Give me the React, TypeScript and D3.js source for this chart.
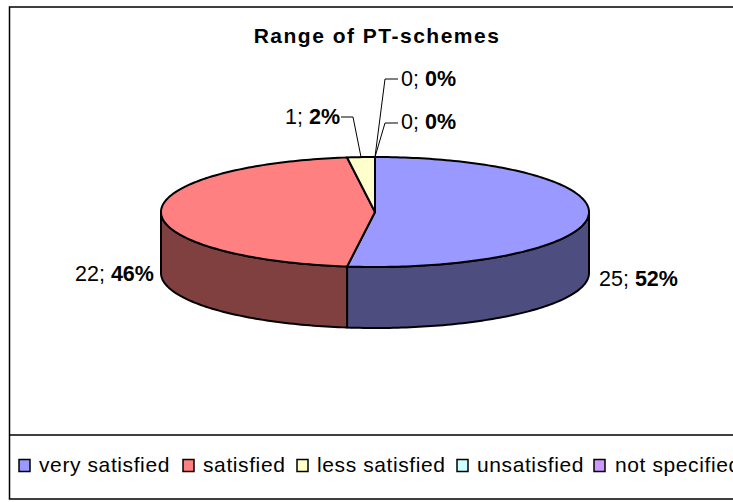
import React from 'react';
import * as d3 from 'd3';

const categories = ['very satisfied', 'satisfied', 'less satisfied', 'unsatisfied', 'not specified'];
const values = [25, 22, 1, 0, 0];
const percents = ['52%', '46%', '2%', '0%', '0%'];
const topColors = ['#9999FF', '#FF8080', '#FFFFCC', '#CCFFFF', '#CC99FF'];
const sideColors = ['#4D4D80', '#804040', '#808066', '#668080', '#664D80'];
const legendSwatchX = [19, 183, 297, 457, 594];
const legendTextX = [39, 203, 317, 477, 615];

const width = 733;
const height = 502;
const cx = 375;
const cy = 212;
const rx = 214;
const ry = 55;
const depth = 61;
const font = '"Liberation Sans", Arial, sans-serif';

// pie angle -> squashed ellipse point, 0 at the top going clockwise
const rimX = (a: number) => cx + rx * Math.sin(a);
const rimY = (a: number) => cy - ry * Math.cos(a);

const sampleAngles = (a0: number, a1: number) => {
  const n = Math.max(2, Math.ceil(Math.abs(a1 - a0) / 0.02));
  return d3.range(n + 1).map((i) => a0 + ((a1 - a0) * i) / n);
};

const line = d3.line<[number, number]>();

const topPath = (a0: number, a1: number) =>
  line([[cx, cy], ...sampleAngles(a0, a1).map((a): [number, number] => [rimX(a), rimY(a)])]) + 'Z';

const sidePath = (a0: number, a1: number) => {
  const front = sampleAngles(a0, a1);
  const upper = front.map((a): [number, number] => [rimX(a), rimY(a)]);
  const lower = [...front].reverse().map((a): [number, number] => [rimX(a), rimY(a) + depth]);
  return line([...upper, ...lower]) + 'Z';
};

const pie = d3.pie<number>().sort(null);
const slices = pie(values);

const leaders: [number, number][][] = [
  [[398, 79], [385, 79], [375, 157]],
  [[398, 123], [385, 123], [375, 157]],
  [[341, 117], [353, 117], [361, 157]],
];

// value index, x, baseline
const labels: [number, number, number][] = [
  [0, 599, 286],
  [1, 75, 281],
  [2, 285, 124],
  [3, 401, 86],
  [4, 401, 129],
];

export default function App() {
  const ink = '#000';
  return (
    <svg
      width={width}
      height={height}
      style={{ position: 'absolute', left: 0, top: 0, background: '#fff' }}
      fontFamily={font}
    >
      <path d={`M${width},7H9.5V499H${width}`} fill="none" stroke={ink} strokeWidth={1.5} />
      <path d={`M9.5,435H${width}`} fill="none" stroke={ink} strokeWidth={1.5} />

      <text x={377} y={43} textAnchor="middle" fontSize={21} fontWeight="bold" letterSpacing={1.5}>
        Range of PT-schemes
      </text>

      {slices.map((s, i) => {
        const a0 = Math.max(s.startAngle, Math.PI / 2);
        const a1 = Math.min(s.endAngle, (3 * Math.PI) / 2);
        if (a1 <= a0) return null;
        return (
          <path key={i} d={sidePath(a0, a1)} fill={sideColors[i]} stroke={ink} strokeWidth={2} strokeLinejoin="round" />
        );
      })}
      {slices.map((s, i) =>
        s.endAngle > s.startAngle ? (
          <path
            key={i}
            d={topPath(s.startAngle, s.endAngle)}
            fill={topColors[i]}
            stroke={ink}
            strokeWidth={2}
            strokeLinejoin="round"
          />
        ) : null
      )}

      {leaders.map((pts, i) => (
        <path key={i} d={line(pts) ?? ''} fill="none" stroke={ink} strokeWidth={1} />
      ))}

      {labels.map(([i, x, y]) => (
        <text key={i} x={x} y={y} fontSize={21.5}>
          {values[i]};{' '}
          <tspan fontWeight="bold">{percents[i]}</tspan>
        </text>
      ))}

      {categories.map((c, i) => (
        <g key={c}>
          <rect
            x={legendSwatchX[i]}
            y={459.5}
            width={11}
            height={12}
            fill={topColors[i]}
            stroke={ink}
            strokeWidth={1.5}
          />
          <text x={legendTextX[i]} y={472} fontSize={21} letterSpacing={0.6}>
            {c}
          </text>
        </g>
      ))}
    </svg>
  );
}
